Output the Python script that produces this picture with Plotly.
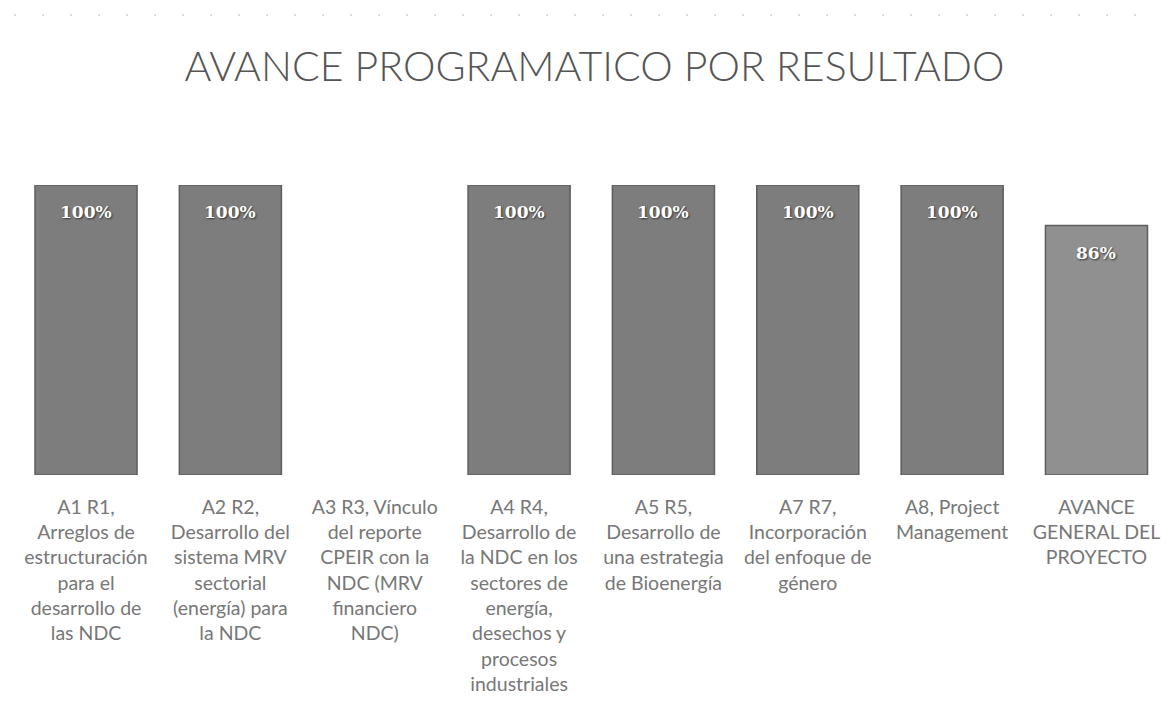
import plotly.graph_objects as go

categories = [
    "A1 R1,<br>Arreglos de<br>estructuración<br>para el<br>desarrollo de<br>las NDC",
    "A2 R2,<br>Desarrollo del<br>sistema MRV<br>sectorial<br>(energía) para<br>la NDC",
    "A3 R3, Vínculo<br>del reporte<br>CPEIR con la<br>NDC (MRV<br>financiero<br>NDC)",
    "A4 R4,<br>Desarrollo de<br>la NDC en los<br>sectores de<br>energía,<br>desechos y<br>procesos<br>industriales",
    "A5 R5,<br>Desarrollo de<br>una estrategia<br>de Bioenergía",
    "A7 R7,<br>Incorporación<br>del enfoque de<br>género",
    "A8, Project<br>Management",
    "AVANCE<br>GENERAL DEL<br>PROYECTO",
]
values = [100, 100, 0, 100, 100, 100, 100, 86]
labels = ["100%", "100%", "", "100%", "100%", "100%", "100%", "86%"]
bar_colors = ["#7d7d7d"] * 7 + ["#909090"]

x_idx = list(range(len(categories)))
line_widths = [1.5 if v > 0 else 0 for v in values]

fig = go.Figure()
fig.add_trace(go.Bar(
    x=x_idx, y=values,
    marker=dict(color=bar_colors, line=dict(color="#5e5e5e", width=line_widths)),
    width=0.707,
    hoverinfo="skip",
))

for xi, v, lab in zip(x_idx, values, labels):
    if lab:
        fig.add_annotation(
            x=xi, y=v, text="<b>" + lab + "</b>", showarrow=False,
            yshift=-27,
            font=dict(family="DejaVu Serif, serif", size=17, color="white",
                      shadow="1px 1px 2px #333333"),
        )

fig.add_shape(type="line", xref="paper", yref="paper", x0=0.0, x1=0.99,
              y0=1.586, y1=1.586, line=dict(color="#bdbdbd", width=1, dash="2px,26px"))

fig.update_layout(
    width=1161, height=720,
    margin=dict(l=14, r=0, t=185, b=245),
    paper_bgcolor="white", plot_bgcolor="white",
    title=dict(text="AVANCE PROGRAMATICO POR RESULTADO", x=0.512, xanchor="center",
               y=0.907, yanchor="middle",
               font=dict(family="Lato", size=41, color="#555555", weight=300)),
    showlegend=False,
)
fig.update_xaxes(
    tickmode="array", tickvals=x_idx, ticktext=categories,
    range=[-0.499, 7.447], showgrid=False, showline=False, zeroline=False,
    ticks="", tickangle=0, ticklabelstandoff=18,
    tickfont=dict(family="Lato", size=19.5, color="#777777"),
)
fig.update_yaxes(range=[0, 100], visible=False, showgrid=False, zeroline=False)

fig.write_html("out.html", config={"displayModeBar": False},
               post_script="document.body.style.margin='0';")
